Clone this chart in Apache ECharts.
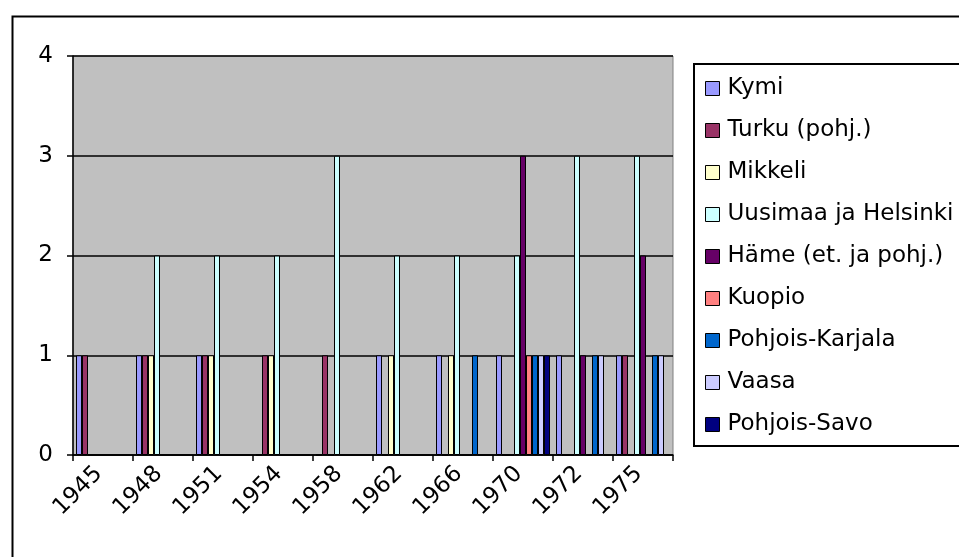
<!DOCTYPE html>
<html>
<head>
<meta charset="utf-8">
<script src="https://cdn.jsdelivr.net/npm/echarts@6/dist/echarts.min.js"></script>
<style>
html,body{margin:0;padding:0;background:#fff;}
#c{width:959px;height:557px;}
</style>
</head>
<body>
<div id="c"></div>
<script>
const years = ['1945','1948','1951','1954','1958','1962','1966','1970','1972','1975'];
const seriesNames = ['Kymi','Turku (pohj.)','Mikkeli','Uusimaa ja Helsinki','Häme (et. ja pohj.)','Kuopio','Pohjois-Karjala','Vaasa','Pohjois-Savo'];
const seriesColors = ['#9999FF','#993366','#FFFFCC','#CCFFFF','#660066','#FF8080','#0066CC','#CCCCFF','#000080'];
const kymi    = [1,1,1,0,0,1,1,1,1,1];
const turku   = [1,1,1,1,1,0,0,0,0,1];
const mikkeli = [0,1,1,1,0,1,1,0,0,0];
const uusimaa = [0,2,2,2,3,2,2,2,3,3];
const hame    = [0,0,0,0,0,0,0,3,1,2];
const kuopio  = [0,0,0,0,0,0,0,1,0,0];
const karjala = [0,0,0,0,0,0,1,1,1,1];
const vaasa   = [0,0,0,0,0,0,0,1,1,1];
const savo    = [0,0,0,0,0,0,0,1,0,0];
const yTicks = [0,1,2,3,4];

const values = [kymi, turku, mikkeli, uusimaa, hame, kuopio, karjala, vaasa, savo];
const FONT = '"DejaVu Sans", Verdana, sans-serif';

const chart = echarts.init(document.getElementById('c'), null, {renderer:'canvas'});
chart.setOption({
  animation: false,
  backgroundColor: '#fff',
  textStyle: {fontFamily: FONT, color: '#000'},
  graphic: [{
    type: 'rect', left: 10, top: 14, z: 0,
    shape: {x: 0, y: 0, width: 1000, height: 700},
    style: {fill: 'none', stroke: '#000', lineWidth: 2}
  }],
  grid: {
    left: 73, top: 56, width: 600, height: 399,
    show: true, backgroundColor: '#C0C0C0', borderColor: '#808080', borderWidth: 1
  },
  legend: {
    orient: 'vertical', left: 694, top: 64,
    data: seriesNames,
    icon: 'rect', itemWidth: 14, itemHeight: 14, itemGap: 19,
    padding: [13, 60, 10, 11],
    borderColor: '#000', borderWidth: 2, backgroundColor: '#fff',
    itemStyle: {borderColor: '#000', borderWidth: 1},
    textStyle: {fontFamily: FONT, fontSize: 23, color: '#000', padding: [0,0,0,3]},
    selectedMode: false
  },
  xAxis: {
    type: 'category', data: years, boundaryGap: true,
    axisLine: {lineStyle: {color: '#000', width: 1.5}},
    axisTick: {show: true, alignWithLabel: false, length: 6, lineStyle: {color: '#000', width: 1.5}},
    axisLabel: {rotate: 45, fontSize: 23, color: '#000', fontFamily: FONT, margin: 11, interval: 0, padding: [0, 6, 0, 0]},
    splitLine: {show: false}
  },
  yAxis: {
    type: 'value', min: yTicks[0], max: yTicks[yTicks.length-1], interval: 1,
    axisLine: {show: true, lineStyle: {color: '#000', width: 1.5}},
    axisTick: {show: true, length: 6, lineStyle: {color: '#000', width: 1.5}},
    axisLabel: {fontSize: 23, color: '#000', fontFamily: FONT, margin: 20},
    splitLine: {show: true, lineStyle: {color: '#000', width: 1.5}}
  },
  series: seriesNames.map((n, i) => ({
    name: n, type: 'bar', data: values[i],
    barGap: '0%', barCategoryGap: '10%',
    itemStyle: {color: seriesColors[i], borderColor: '#000', borderWidth: 1},
    emphasis: {disabled: true}
  }))
});
</script>
</body>
</html>
